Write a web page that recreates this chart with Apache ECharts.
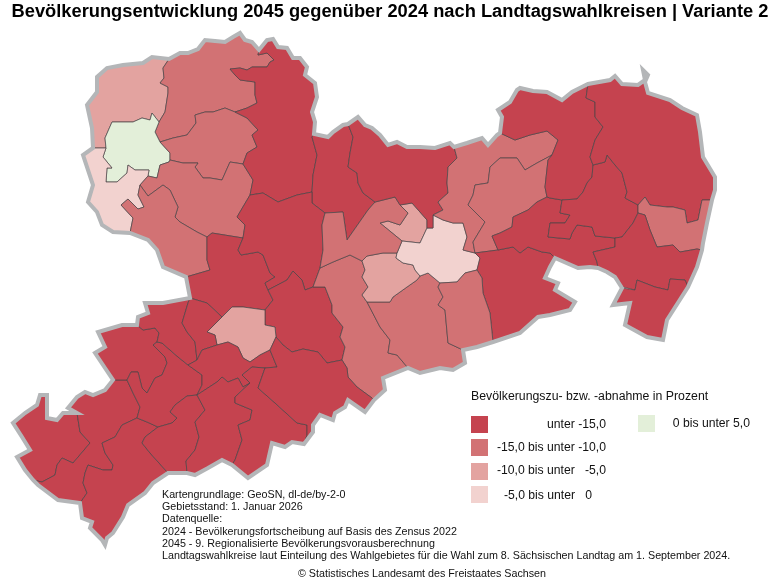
<!DOCTYPE html>
<html>
<head>
<meta charset="utf-8">
<script src="https://cdn.jsdelivr.net/npm/echarts@6/dist/echarts.min.js"></script>
<style>
html, body { margin: 0; padding: 0; background: #fff; }
#draw { width: 780px; height: 585px; }
</style>
</head>
<body>
<div id="draw"></div>
<script>
// Klassen der Legende
var classLabels = ['unter -15,0', '-15,0 bis unter -10,0', '-10,0 bis unter   -5,0', '-5,0 bis unter   0', '0 bis unter 5,0'];
var classMin = [-100, -15, -10, -5, 0];
var classMax = [-15, -10, -5, 0, 5];
var classColors = ['#c5434f', '#d27274', '#e3a3a0', '#f2d2cf', '#e3efd9'];

var titleText = 'Bevölkerungsentwicklung 2045 gegenüber 2024 nach Landtagswahlkreisen | Variante 2';
var legendTitle = 'Bevölkerungszu- bzw. -abnahme in Prozent';
var noteLines = [
	'Kartengrundlage: GeoSN, dl-de/by-2-0',
	'Gebietsstand: 1. Januar 2026',
	'Datenquelle:',
	'2024 - Bevölkerungsfortscheibung auf Basis des Zensus 2022',
	'2045 - 9. Regionalisierte Bevölkerungsvorausberechnung',
	'Landtagswahlkreise laut Einteilung des Wahlgebietes für die Wahl zum 8. Sächsischen Landtag am 1. September 2024.'
];
var sourceLine = '© Statistisches Landesamt des Freistaates Sachsen';

// Werte je Wahlkreis (aus der Karte geschätzt, nur die Klasse ist ablesbar)
var wkNames = ['n1', 'n2', 'leipzig', 'ls', 'n3', 'n4', 'n5', 'n6', 'o1', 'o2', 'm1', 'm2', 'chemnitz', 'm3', 'm4', 'm5', 'm6',
	'dresden', 'm7', 'm8', 'm9', 'o3', 'o4', 'm10', 'o6', 'o7', 'o8', 'o9', 'o10', 'o11', 'o12',
	's1', 's2', 's3', 's4', 's5', 's6', 's7', 's8', 's9', 's10', 's11', 's12'];
var wkValues = [-7.5, -12.5, 1.5, -3, -12, -13, -11.5, -17, -18, -17, -17, -17, -8, -12, -12, -8, -7,
	-3, -12, -18, -12, -13, -18, -12, -18, -18, -19, -18, -12, -18, -19,
	-18, -18, -19, -19, -19, -18, -17, -18, -18, -17, -18, -17];

// Knotenpunkte
var A = [169, 59], B = [259, 50], C = [314, 134], D = [348, 124], E = [454, 147], F = [500, 133], G = [588, 84],
	HX = [712, 200], I = [702, 250], IA = [688, 287], IB = [622, 288], J = [598, 268], H6 = [555, 258], K = [493, 342],
	K2 = [463, 350], L = [408, 368], M = [374, 400], JA = [304, 444], JB = [232, 465], JC = [187, 473], JD = [168, 473],
	JE = [80, 503], JF = [33, 480], JG = [77, 413], JH = [113, 380], JI = [137, 325], N = [190, 298], U = [186, 277],
	J130 = [130, 233], P = [93, 148];
var Q = [106, 148], G1 = [159, 122], G2 = [160, 142], G3 = [170, 160], G4 = [148, 176], T1 = [140, 185], S = [235, 112],
	T = [243, 164], V1 = [207, 237], V2 = [243, 238], V3 = [250, 195], V4 = [312, 192], V5 = [375, 202], V6 = [325, 213],
	V7 = [320, 268], V8 = [313, 287], VX = [268, 290], VZ = [265, 310], VY = [222, 317], Z1 = [276, 337], Z2 = [270, 350],
	Z3 = [217, 345], W = [342, 360], VR = [362, 261], X = [367, 302], Z = [420, 276], Y = [440, 283], Y1 = [397, 253],
	Y2 = [402, 241], Y3 = [427, 228], Y4 = [433, 215], Y5 = [475, 253], Y6 = [480, 258], Y7 = [477, 270], Y8 = [380, 223],
	Y9 = [412, 203], Y10 = [400, 205], H1 = [552, 155], H2 = [500, 158], H3 = [547, 197], H5 = [498, 250], H7 = [562, 200],
	H8 = [615, 238], H9 = [593, 165], H10 = [638, 205], H11 = [638, 213], J0 = [157, 342], S1 = [127, 380], S2 = [137, 418],
	S3 = [158, 427], S4 = [197, 395], S5 = [188, 365], S6 = [197, 360], S7 = [250, 383], S8 = [242, 375], S9 = [265, 368];

// Landesgrenze im Uhrzeigersinn
var outer = [A, [180, 53], [188, 53], [198, 49], [205, 40], [215, 41], [225, 42], [233, 37], [240, 33], [245, 40], [252, 42], B,
	[267, 40], [273, 39], [278, 47], [287, 48], [293, 58], [300, 58], [307, 67], [305, 75], [315, 83], [317, 97], [312, 112], [315, 122], C,
	[328, 137], [333, 132], [343, 125], D, [358, 117], [365, 125], [372, 128], [380, 135], [388, 145], [397, 142], [407, 147], [420, 147], [435, 148], [450, 143], E,
	[467, 143], [482, 138], [488, 145], [497, 135], F, [502, 117], [498, 110], [510, 102], [517, 90], [520, 88], [533, 91], [547, 92], [562, 100], [572, 92], G,
	[610, 80], [615, 76], [622, 84], [638, 85], [645, 80], [643, 70], [648, 75], [645, 82], [648, 93], [670, 100], [682, 108], [697, 115], [700, 132], [703, 157], [715, 177], [715, 190], HX,
	[707, 223], [703, 243], I, [697, 267], IA, [667, 320], [663, 340], [647, 337], [625, 325], [630, 303], [613, 305], IB,
	[615, 277], [607, 272], J, [590, 267], [578, 268], H6, [550, 267], [545, 278], [558, 283], [555, 290], [575, 302], [570, 310], [550, 315], [538, 317], [520, 333], K,
	[477, 347], K2, [465, 363], [453, 370], [440, 368], [420, 373], L, [383, 378], [385, 390], M,
	[365, 412], [348, 400], [345, 407], [335, 413], [333, 420], [320, 415], [313, 425], [313, 432], JA, [292, 442], [285, 447], [272, 443], [267, 465], [248, 478], JB,
	[222, 460], [208, 468], [195, 475], JC, JD, [153, 483], [145, 493], [128, 505], [123, 517], [113, 533], [107, 538], [105, 545], [102, 540], [90, 528], [92, 522], [82, 518], JE,
	[58, 500], [38, 485], JF, [25, 470], [17, 457], [30, 450], [22, 437], [13, 423], [25, 413], [37, 405], [40, 395], [47, 395], [47, 418], [57, 420], [63, 413], JG,
	[68, 408], [77, 397], [85, 392], [93, 395], [105, 390], JH, [105, 368], [95, 353], [105, 347], [98, 332], [122, 325], JI,
	[138, 317], [148, 313], [145, 303], [163, 303], N, U, [163, 267], [157, 250], [148, 240], J130, [113, 232], [102, 225], [97, 212], [88, 202], [93, 185], [83, 155], P,
	[92, 128], [87, 105], [97, 92], [97, 77], [107, 68], [123, 65], [143, 63], [152, 57]];

// Innere Grenzen
var nw1 = [A, [163, 68], [164, 78], [160, 83], [168, 87], [168, 93], [165, 112], G1];
var gN = [G1, [152, 113], [150, 120], [142, 118], [133, 122], [112, 122], [105, 138], Q];
var gNE = [G1, [155, 132], G2];
var gE = [G2, [170, 153], G3];
var gS = [G3, [169, 162], [160, 165], [157, 178], G4];
var gSW = [G4, [149, 170], [135, 170], [128, 165], [127, 173], [117, 182], [106, 182], [107, 168], [112, 168], [103, 157], Q];
var r3 = [T1, [138, 195], [144, 207], [138, 209], [128, 199], [121, 205], [133, 218], J130];
var bs = [B, [258, 55], [267, 53], [272, 58], [274, 60], [270, 62], [267, 67], [260, 67], [252, 67], [247, 70], [240, 68], [230, 69], [235, 75], [240, 80], [255, 82], [255, 95], [257, 103], [247, 108], S];
var sg = [S, [225, 108], [213, 112], [205, 112], [195, 115], [196, 123], [187, 135], [173, 138], G2];
var st = [S, [247, 118], [258, 130], [252, 135], [257, 147], [247, 153], T];
var tg = [T, [230, 162], [222, 180], [210, 178], [203, 178], [195, 167], [198, 163], [183, 163], G3];
var tv1 = [T1, [148, 196], [163, 185], [170, 190], [178, 207], [175, 217], [180, 222], [197, 232], V1];
var v12 = [V1, [212, 233], V2];
var v23 = [V2, [245, 225], [237, 217], V3];
var v3t = [V3, [253, 180], T];
var v1u = [V1, [207, 250], [207, 260], [210, 270], U];
var cv4 = [C, [312, 137], [317, 155], [313, 175], V4];
var v43 = [V4, [297, 195], [278, 202], [263, 193], V3];
var dv5 = [D, [353, 137], [350, 153], [348, 167], [357, 173], [358, 183], [363, 193], V5];
var v56 = [V5, [368, 210], [347, 240], [343, 212], V6];
var v46 = [V4, [312, 203], V6];
var v67 = [V6, [322, 225], [323, 250], V7];
var v78 = [V7, V8];
var v8x = [V8, [305, 290], [302, 280], [293, 271], [287, 280], VX];
var v2x = [V2, [238, 250], [241, 255], [258, 252], [263, 255], [270, 273], [275, 277], [265, 283], VX];
var xz = [VX, [273, 300], VZ];
var zy = [VZ, [243, 307], [232, 307], VY];
var yn = [VY, [207, 303], N];
var zz1 = [VZ, [265, 325], [275, 327], Z1];
var z12 = [Z1, Z2];
var z23 = [Z2, [260, 355], [250, 362], [243, 358], [238, 347], [228, 342], Z3];
var z3y = [Z3, [215, 335], [207, 332], VY];
var v8w = [V8, [325, 287], [332, 305], [332, 313], [343, 327], [340, 337], [345, 347], W];
var wz1 = [W, [327, 363], [318, 352], [303, 349], [292, 352], [283, 345], Z1];
var v7r = [V7, [333, 262], [350, 255], VR];
var rx = [VR, [365, 270], [362, 277], [368, 287], [362, 295], X];
var xl = [X, [380, 327], [390, 340], [388, 353], [397, 355], L];
var mw = [M, [372, 398], [357, 387], [348, 377], [347, 368], W];
var xzz = [X, [390, 302], [393, 297], [407, 287], [417, 280], Z];
var zzy = [Z, [428, 273], Y];
var yk = [Y, [438, 287], [443, 297], [438, 305], [445, 310], [448, 343], K2];
var ry1 = [VR, [367, 256], [383, 253], Y1];
var y1z = [Y1, [396, 258], [403, 263], [413, 265], [415, 270], Z];
var y12 = [Y1, Y2];
var y23 = [Y2, [420, 243], Y3];
var y34 = [Y3, [433, 228], Y4];
var y45 = [Y4, [443, 220], [453, 223], [463, 223], [467, 237], [463, 250], Y5];
var y56 = [Y5, Y6];
var y67 = [Y6, Y7];
var y7y = [Y7, [465, 273], [457, 282], Y];
var y39 = [Y3, [427, 220], Y9];
var y910 = [Y9, Y10];
var y108 = [Y10, [408, 213], [400, 225], [388, 221], Y8];
var y82 = [Y8, Y2];
var v510 = [V5, [395, 197], Y10];
var ey4 = [E, [457, 158], [448, 167], [447, 183], [448, 193], [438, 202], [443, 210], Y4];
var fh1 = [F, [515, 140], [530, 135], [547, 131], [558, 140], H1];
var h12 = [H1, [537, 163], [525, 170], [517, 158], H2];
var h2y = [H2, [490, 167], [488, 183], [475, 185], [473, 195], [468, 205], [485, 222], [473, 242], Y5];
var h13 = [H1, [548, 160], [545, 187], H3];
var h35 = [H3, [537, 202], [528, 210], [513, 217], [512, 227], [500, 233], [492, 236], H5];
var h5y = [H5, Y5];
var h56 = [H5, [513, 247], [520, 253], [528, 247], [542, 252], [550, 253], H6];
var ky = [K, [490, 313], [483, 293], [482, 278], Y7];
var h37 = [H3, [550, 198], H7];
var h78 = [H7, [560, 213], [570, 215], [565, 223], [550, 223], [548, 237], [570, 239], [572, 233], [577, 225], [592, 227], [595, 236], H8];
var h8j = [H8, [615, 247], [593, 252], [597, 262], J];
var gh9 = [G, [586, 98], [595, 102], [595, 117], [603, 127], [595, 140], [590, 157], H9];
var h97 = [H9, [592, 177], [587, 183], [583, 192], [577, 199], H7];
var h910 = [H9, [605, 162], [607, 155], [615, 165], [622, 173], [627, 192], [625, 198], H10];
var h1011 = [H10, H11];
var h118 = [H11, [633, 223], [622, 237], H8];
var hx10 = [HX, [702, 200], [698, 220], [687, 223], [685, 210], [673, 207], [667, 207], [650, 205], [645, 197], H10];
var i11 = [I, [697, 249], [680, 252], [673, 245], [657, 247], [650, 230], [645, 215], H11];
var iab = [IA, [685, 280], [670, 279], [668, 290], [655, 287], [637, 280], [635, 290], [623, 287], IB];
// Südwesten
var e1 = [JG, [80, 432], [90, 443], [73, 463], [62, 458], [57, 465], [55, 475], [42, 482], JF];
var d1 = [S2, [122, 425], [115, 437], [102, 443], [105, 453], [113, 465], [112, 470], [103, 470], [88, 465], [85, 473], [83, 483], [87, 493], JE];
var c1 = [S1, [133, 393], [140, 407], S2];
var c2 = [S2, [147, 422], S3];
var f1 = [S3, [145, 437], [142, 443], [150, 453], JD];
var a1 = [JI, [143, 330], [155, 328], [159, 333], J0];
var a2 = [J0, [153, 345], [165, 357], [167, 363], [162, 375], [155, 378], [147, 393], [142, 388], [138, 372], [131, 372], S1];
var a3 = [S1, JH];
var b1 = [J0, [162, 343], [178, 357], S5];
var b2 = [S5, [202, 375], [202, 385], S4];
var b3 = [S5, S6];
var c3 = [S3, [172, 423], [177, 418], [170, 412], [175, 405], [187, 396], S4];
var g1 = [S4, [205, 410], [195, 422], [199, 437], [195, 450], [186, 461], JC];
var n1 = [N, [188, 303], [182, 323], [187, 332], [195, 342], S6];
var n2 = [S6, [202, 350], Z3];
var t1 = [S4, [217, 382], [222, 377], [228, 382], [238, 378], [243, 387], S7];
var t2 = [S7, S8];
var t3 = [S8, [252, 367], S9];
var t4 = [S9, [277, 367], Z2];
var u1 = [S7, [235, 397], [235, 403], [252, 410], [250, 420], [238, 425], [242, 440], [235, 460], JB];
var u2 = [S9, [258, 388], [275, 403], [297, 423], [307, 425], [307, 435], JA];

function rev(arc) {
	return arc.slice().reverse();
}
// Stück der Landesgrenze von a nach b
function seg(a, b) {
	var res = [];
	var i = outer.indexOf(a);
	while (outer[i] !== b) {
		res.push(outer[i]);
		i = (i + 1) % outer.length;
	}
	res.push(b);
	return res;
}

var wkRings = {
	n1: [seg(P, A), nw1, gN, [P]],
	n2: [seg(A, B), bs, sg, rev(gNE), rev(nw1)],
	leipzig: [gNE, gE, gS, gSW, rev(gN)],
	ls: [seg(J130, P), [Q], rev(gSW), [T1], r3],
	n3: [st, tg, rev(gE), rev(sg)],
	n4: [tg, gS, [T1], tv1, v12, v23, v3t],
	n5: [tv1, v1u, seg(U, J130), rev(r3)],
	n6: [v12, v2x, xz, zy, yn, seg(N, U), rev(v1u)],
	o1: [seg(B, C), cv4, v43, v3t, rev(st), rev(bs)],
	o2: [seg(C, D), dv5, v56, rev(v46), rev(cv4)],
	m1: [rev(v43), v46, v67, v78, v8x, rev(v2x), v23],
	m2: [rev(v8x), v8w, wz1, rev(zz1), rev(xz)],
	chemnitz: [rev(zy), zz1, z12, z23, z3y],
	m3: [rev(v78), v7r, rx, xl, seg(L, M), mw, rev(v8w)],
	m4: [xzz, zzy, yk, seg(K2, L), rev(xl)],
	m5: [ry1, y1z, rev(xzz), rev(rx)],
	m6: [y23, y39, y910, y108, y82],
	dresden: [y12, y23, y34, y45, y56, y67, y7y, rev(zzy), rev(y1z)],
	m7: [v510, y108, y82, rev(y12), rev(ry1), rev(v7r), rev(v67), rev(v56)],
	m8: [seg(D, E), ey4, rev(y34), y39, y910, rev(v510), rev(dv5)],
	m9: [seg(E, F), fh1, h12, h2y, rev(y45), rev(ey4)],
	o3: [rev(h12), h13, h35, h5y, rev(h2y)],
	o4: [h56, seg(H6, K), ky, rev(y67), rev(y56), rev(h5y)],
	m10: [rev(y7y), rev(ky), seg(K, K2), rev(yk)],
	o6: [rev(h35), h37, h78, h8j, seg(J, H6), rev(h56)],
	o7: [seg(F, G), gh9, h97, rev(h37), rev(h13), rev(fh1)],
	o8: [h910, h1011, h118, rev(h78), rev(h97)],
	o9: [seg(G, HX), hx10, rev(h910), rev(gh9)],
	o10: [rev(hx10), seg(HX, I), i11, rev(h1011)],
	o11: [rev(i11), seg(I, IA), iab, seg(IB, J), rev(h8j), rev(h118)],
	o12: [rev(iab), seg(IA, IB)],
	s1: [seg(JF, JG), e1],
	s2: [seg(JG, JH), rev(a3), c1, d1, seg(JE, JF), rev(e1)],
	s3: [seg(JH, JI), a1, a2, a3],
	s4: [c2, f1, seg(JD, JE), rev(d1)],
	s5: [b1, b2, rev(c3), rev(c2), rev(c1), rev(a2)],
	s6: [seg(JI, N), n1, rev(b3), rev(b1), rev(a1)],
	s7: [yn, n1, n2, z3y],
	s8: [b3, n2, rev(z23), rev(t4), rev(t3), rev(t2), rev(t1), rev(b2)],
	s9: [c3, g1, [JD], rev(f1)],
	s10: [t1, u1, seg(JB, JC), rev(g1)],
	s11: [rev(t3), rev(t2), u1, rev(seg(JA, JB)), rev(u2)],
	s12: [z12, rev(t4), u2, rev(seg(M, JA)), mw, wz1]
};

function closeRing(parts) {
	var pts = [];
	parts.forEach(function(p) {
		p.forEach(function(q) {
			var last = pts[pts.length - 1];
			if (!last || last[0] != q[0] || last[1] != q[1]) {
				pts.push(q);
			}
		});
	});
	var first = pts[0], end = pts[pts.length - 1];
	if (first[0] != end[0] || first[1] != end[1]) {
		pts.push(first);
	}
	return pts;
}

var wkMap = {
	type: 'FeatureCollection',
	features: wkNames.map(function(name) {
		return {
			type: 'Feature',
			properties: { name: name },
			geometry: { type: 'Polygon', coordinates: [closeRing(wkRings[name])] }
		};
	})
};
var outlineMap = {
	type: 'FeatureCollection',
	features: [{
		type: 'Feature',
		properties: { name: 'sachsen' },
		geometry: { type: 'Polygon', coordinates: [closeRing([outer])] }
	}]
};
echarts.registerMap('wahlkreise', wkMap);
echarts.registerMap('umriss', outlineMap);

var xs = outer.map(function(p) { return p[0]; });
var ys = outer.map(function(p) { return p[1]; });
var box = {
	left: Math.min.apply(null, xs),
	top: Math.min.apply(null, ys),
	width: Math.max.apply(null, xs) - Math.min.apply(null, xs),
	height: Math.max.apply(null, ys) - Math.min.apply(null, ys)
};
var plain = {
	project: function(p) { return p; },
	unproject: function(p) { return p; }
};
var fontName = '"Liberation Sans", Arial, sans-serif';

// Legende und Fußtexte
var graphics = [{
	type: 'text', x: 471, y: 397,
	style: { text: legendTitle, font: '12.3px ' + fontName, fill: '#111', textVerticalAlign: 'middle' }
}];
var swatchX = [471, 471, 471, 471, 638];
var swatchY = [416, 439, 463, 486, 415];
var labelX = [606, 606, 606, 592, 750];
var labelY = [425, 448, 471, 496, 424];
classLabels.forEach(function(label, i) {
	graphics.push({
		type: 'rect',
		shape: { x: swatchX[i], y: swatchY[i], width: 17, height: 17 },
		style: { fill: classColors[i] }
	});
	graphics.push({
		type: 'text', x: labelX[i], y: labelY[i],
		style: { text: label, font: '12.2px ' + fontName, fill: '#111', textAlign: 'right', textVerticalAlign: 'middle' }
	});
});
noteLines.forEach(function(line, i) {
	graphics.push({
		type: 'text', x: 162, y: [495, 507, 519, 532, 544, 556][i],
		style: { text: line, font: '10.72px ' + fontName, fill: '#111', textVerticalAlign: 'middle' }
	});
});
graphics.push({
	type: 'text', x: 422, y: 574,
	style: { text: sourceLine, font: '10.72px ' + fontName, fill: '#111', textAlign: 'center', textVerticalAlign: 'middle' }
});

var myChart = echarts.init(document.getElementById('draw'));
var option = {
	animation: false,
	backgroundColor: '#fff',
	title: {
		text: titleText,
		left: 'center',
		top: 3,
		padding: 0,
		textStyle: { fontFamily: fontName, fontSize: 18.3, fontWeight: 'bold', color: '#000' }
	},
	visualMap: {
		type: 'piecewise',
		show: false,
		seriesIndex: 0,
		pieces: classLabels.map(function(label, i) {
			return { gte: classMin[i], lt: classMax[i], color: classColors[i] };
		})
	},
	series: [{
		type: 'map',
		map: 'wahlkreise',
		projection: plain,
		left: box.left, top: box.top, width: box.width, height: box.height,
		silent: true,
		label: { show: false },
		itemStyle: { borderColor: '#4a4446', borderWidth: 0.7 },
		data: wkNames.map(function(name, i) {
			return { name: name, value: wkValues[i] };
		})
	}, {
		type: 'map',
		map: 'umriss',
		projection: plain,
		left: box.left, top: box.top, width: box.width, height: box.height,
		silent: true,
		label: { show: false },
		itemStyle: { areaColor: 'rgba(0,0,0,0)', borderColor: '#b4b6b8', borderWidth: 4 },
		data: []
	}],
	graphic: graphics
};
myChart.setOption(option);
</script>
</body>
</html>
